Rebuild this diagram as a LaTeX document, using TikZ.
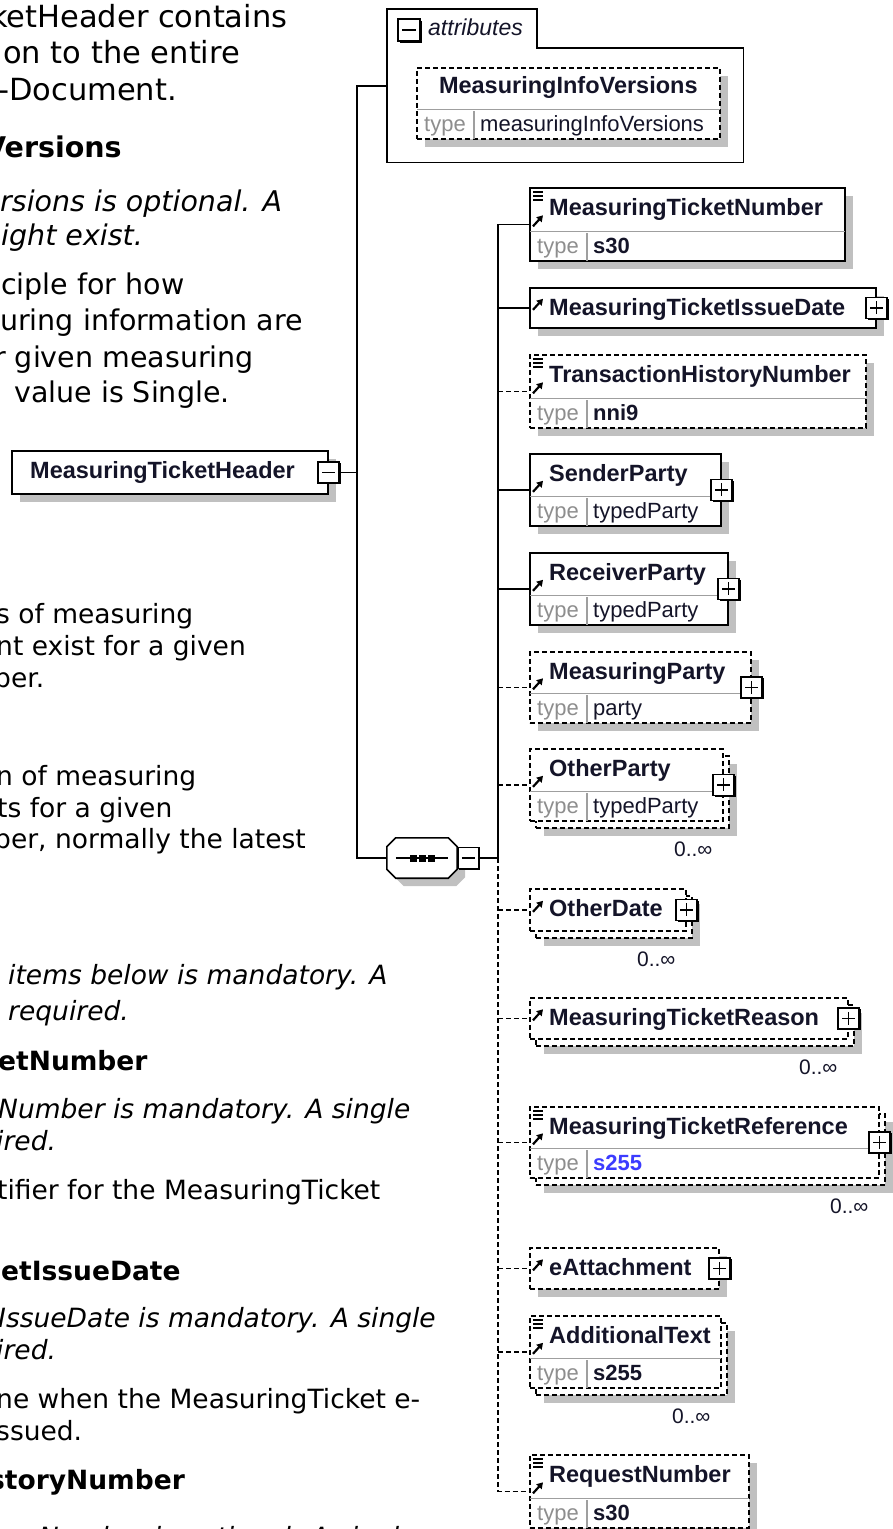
\documentclass[tikz,border=0pt]{standalone}
\usepackage{fontspec}
\setmainfont{DejaVu Sans}
\newfontfamily\xsdfont{Liberation Sans}
\usetikzlibrary{arrows.meta,shadows}

\definecolor{shadegray}{HTML}{C0C0C0}
\definecolor{typegray}{HTML}{8E8E8E}
\definecolor{navyink}{HTML}{141428}
\definecolor{linkblue}{HTML}{3C3CFF}

\begin{document}
\begin{tikzpicture}[x=1pt, y=-1pt,
  txt/.style={anchor=base west, inner sep=0pt, font=\fontsize{\f}{32}\selectfont},
  txtit/.style={txt, font=\fontsize{\f}{32}\selectfont\itshape},
  txtbf/.style={txt, font=\fontsize{\f}{32}\selectfont\bfseries},
  wire/.style={line width=1.6pt},
  opt/.style={dash pattern=on 5pt off 3pt},
  boxshadow/.style={drop shadow={shadow xshift=8pt, shadow yshift=-8pt, fill=shadegray, opacity=1}},
  card/.style={draw, line width=1.6pt, fill=white, anchor=north west, inner sep=0pt},
  mustcard/.style={card, boxshadow},
  optcard/.style={card, opt, boxshadow},
  multicard/.style={card, opt},
  ttl/.style={anchor=base west, inner sep=0pt, text=navyink, font=\xsdfont\fontsize{23.5}{26}\selectfont\bfseries},
  typelbl/.style={anchor=base west, inner sep=0pt, text=typegray, font=\xsdfont\fontsize{22}{24}\selectfont},
  typeval/.style={typelbl, text=navyink},
  typebf/.style={typeval, font=\xsdfont\fontsize{22}{24}\selectfont\bfseries},
  typelink/.style={typebf, text=linkblue},
  occurs/.style={anchor=base east, inner sep=0pt, text=navyink, font=\xsdfont\fontsize{21}{24}\selectfont},
  sepline/.style={draw=gray!75, line width=1.2pt, shorten <=1pt, shorten >=1pt},
  toggle/.style={draw, fill=white, line width=1.5pt, minimum size=21pt, inner sep=0pt,
    drop shadow={shadow xshift=1.5pt, shadow yshift=-1.5pt, fill=black, opacity=1}},
  collapse/.style={toggle, path picture={\draw[line width=1.4pt]
    ([xshift=4pt]path picture bounding box.west) -- ([xshift=-4pt]path picture bounding box.east);}},
  expand/.style={toggle, path picture={\draw[line width=1.4pt]
    ([xshift=4pt]path picture bounding box.west) -- ([xshift=-4pt]path picture bounding box.east)
    ([yshift=-4pt]path picture bounding box.north) -- ([yshift=4pt]path picture bounding box.south);}}]

  \path[use as bounding box, fill=white] (0,0) rectangle (893,1529);

  % 左侧文字 (左边被裁掉)
  \foreach \x/\y/\f/\s/\txt [count=\i] in {
    -10/27/30.5/txt/ketHeader contains, 3/63/30.5/txt/on to the entire, -2/100/30.5/txt/-Document.,
    -16/157/28.5/txtbf/Versions, 0/211/28.5/txtit/rsions is optional. A, 1/245/28.5/txtit/ight exist.,
    1/294/28.5/txt/ciple for how, 0/330/28.5/txt/uring information are, -6/367/28.5/txt/r given measuring,
    14/402/28.5/txt/value is Single.,
    -4/623/26.5/txt/s of measuring, -4/655/26.5/txt/nt exist for a given, -6/687/26.5/txt/ber.,
    -4/785/26.5/txt/n of measuring, -3/817/26.5/txt/ts for a given, -6/848/26.5/txt/{ber, normally the latest},
    8/984/26.5/txtit/items below is mandatory. A, 8/1020/26.5/txtit/required.,
    -2/1070/26.5/txtbf/etNumber, -2/1118/26.5/txtit/Number is mandatory. A single, -4/1150/26.5/txtit/ired.,
    -3/1199/26.5/txt/tifier for the MeasuringTicket,
    1/1280/26.5/txtbf/etIssueDate, -2/1327/26.5/txtit/IssueDate is mandatory. A single, -4/1359/26.5/txtit/ired.,
    -4/1408/26.5/txt/ne when the MeasuringTicket e-, -4/1440/26.5/txt/ssued.,
    -11/1489/26.5/txtbf/storyNumber, -4/1546/26.5/txtit/oryNumber is optional. A single}
    \node[\s] (line\i) at (\x,\y) {\txt};

  % attributes
  \node[inner sep=0pt, minimum width=356pt, minimum height=153pt, anchor=north west] (attr) at (387,9) {};
  \draw[line width=1.6pt] (attr.north west) -- ([xshift=150pt]attr.north west)
    -- ([shift={(150pt,-39pt)}]attr.north west) -- ([yshift=-39pt]attr.north east)
    -- (attr.south east) -- (attr.south west) -- cycle;
  \node[collapse, minimum size=22pt] (attr-x) at (409,30) {};
  \node[anchor=base west, inner sep=0pt, text=navyink, font=\xsdfont\fontsize{23}{26}\selectfont\itshape] (attr-n) at (428,35) {attributes};
  \node[optcard, minimum width=303pt, minimum height=71pt] (miv) at (416,67) {};
  \node[ttl, anchor=base] (miv-n) at ([yshift=-26pt]miv.north) {MeasuringInfoVersions};

  % 根元素
  \node[mustcard, minimum width=316pt, minimum height=43pt] (mth) at (11,450) {};
  \node[ttl] (mth-n) at (30,478) {MeasuringTicketHeader};
  \node[collapse] (mth-x) at (mth.east) {};

  % sequence
  \node[inner sep=0pt, minimum width=70pt, minimum height=40pt] (seq) at (422,858) {};
  \filldraw[fill=white, line width=1.6pt, boxshadow] ([xshift=9pt]seq.north west) -- ([xshift=-9pt]seq.north east)
    -- ([yshift=-9pt]seq.north east) -- ([yshift=9pt]seq.south east) -- ([xshift=-9pt]seq.south east)
    -- ([xshift=9pt]seq.south west) -- ([yshift=9pt]seq.south west) -- ([yshift=-9pt]seq.north west) -- cycle;
  \draw[line width=1.6pt] ([xshift=9pt]seq.west) -- ([xshift=-9pt]seq.east);
  \foreach \d in {-9,0,9}
    \fill ([xshift=\d pt]seq.center) +(-3.5pt,-3.5pt) rectangle +(3.5pt,3.5pt);
  \node[collapse, anchor=west] (seq-x) at (seq.east) {};

  % 多重元素的后框
  \foreach \n/\t/\w/\h in {op/748/193/72, od/888/156/42, mtr/997/318/41, mtref/1106/349/71, at/1315/191/72}
    \node[optcard, minimum width=\w pt, minimum height=\h pt] (\n-b) at (535,\t+7) {};

  % 子元素
  \foreach \n/\t/\w/\h/\k/\l in {
    mtn/187/315/73/mustcard/MeasuringTicketNumber,
    mtid/287/346/40/mustcard/MeasuringTicketIssueDate,
    thn/354/336/73/optcard/TransactionHistoryNumber,
    sp/453/191/72/mustcard/SenderParty,
    rp/552/198/72/mustcard/ReceiverParty,
    mp/651/221/71/optcard/MeasuringParty,
    op/748/193/72/multicard/OtherParty,
    od/888/156/42/multicard/OtherDate,
    mtr/997/318/41/multicard/MeasuringTicketReason,
    mtref/1106/349/71/multicard/MeasuringTicketReference,
    ea/1247/189/41/optcard/eAttachment,
    at/1315/191/72/multicard/AdditionalText,
    rn/1454/219/73/optcard/RequestNumber}
  {
    \node[\k, minimum width=\w pt, minimum height=\h pt] (\n) at (529,\t) {};
    \node[ttl] (\n-n) at ([shift={(20pt,-28pt)}]\n.north west) {\l};
    \draw[line width=2.2pt, -{Triangle[length=6pt,width=7pt]}] ([shift={(4pt,-2pt)}]\n.west) -- ([shift={(14pt,9pt)}]\n.west);
  }

  % type 行
  \foreach \n/\v/\s in {miv/measuringInfoVersions/typeval, mtn/s30/typebf, thn/nni9/typebf,
      sp/typedParty/typeval, rp/typedParty/typeval, mp/party/typeval, op/typedParty/typeval,
      mtref/s255/typelink, at/s255/typebf, rn/s30/typebf}
  {
    \draw[sepline] ([yshift=30pt]\n.south west) -- ([yshift=30pt]\n.south east);
    \draw[sepline] ([xshift=58pt]\n.south west) -- ([shift={(58pt,30pt)}]\n.south west);
    \node[typelbl] (\n-tl) at ([shift={(8pt,8pt)}]\n.south west) {type};
    \node[\s] (\n-tv) at ([shift={(64pt,8pt)}]\n.south west) {\v};
  }

  % 文档图标, 展开按钮, 出现次数
  \foreach \n in {mtn,thn,mtref,at,rn}
    \foreach \dy in {5,9,13}
      \draw[line width=1.2pt] ([shift={(4pt,-\dy pt)}]\n.north west) -- ++(10pt,0pt);
  \foreach \n in {mtid,sp,rp,mp,op,od,mtr,mtref,ea}
    \node[expand] (\n-x) at (\n.east) {};
  \foreach \n in {op,od,mtr,mtref,at}
    \node[occurs] (\n-o) at ([shift={(-17pt,-28pt)}]\n-b.south east) {0..∞};

  % 连线
  \coordinate (trunk) at (357,0);
  \coordinate (bus) at (498,0);
  \draw[wire] (attr.west) -- (trunk |- attr.west) -- (trunk |- seq.west) -- (seq.west);
  \draw[wire] (mth-x.east) -- (trunk |- mth-x.east);
  \draw[wire] (seq-x.east) -- (bus |- seq-x.east) -- (bus |- mtn.west);
  \draw[wire, opt] (bus |- seq-x.east) -- (bus |- rn.west) -- (rn.west);
  \foreach \n in {mtn,mtid,sp,rp}
    \draw[wire] (bus |- \n.west) -- (\n.west);
  \foreach \n in {thn,mp,op,od,mtr,mtref,ea,at}
    \draw[wire, opt] (bus |- \n.west) -- (\n.west);
\end{tikzpicture}
\end{document}
